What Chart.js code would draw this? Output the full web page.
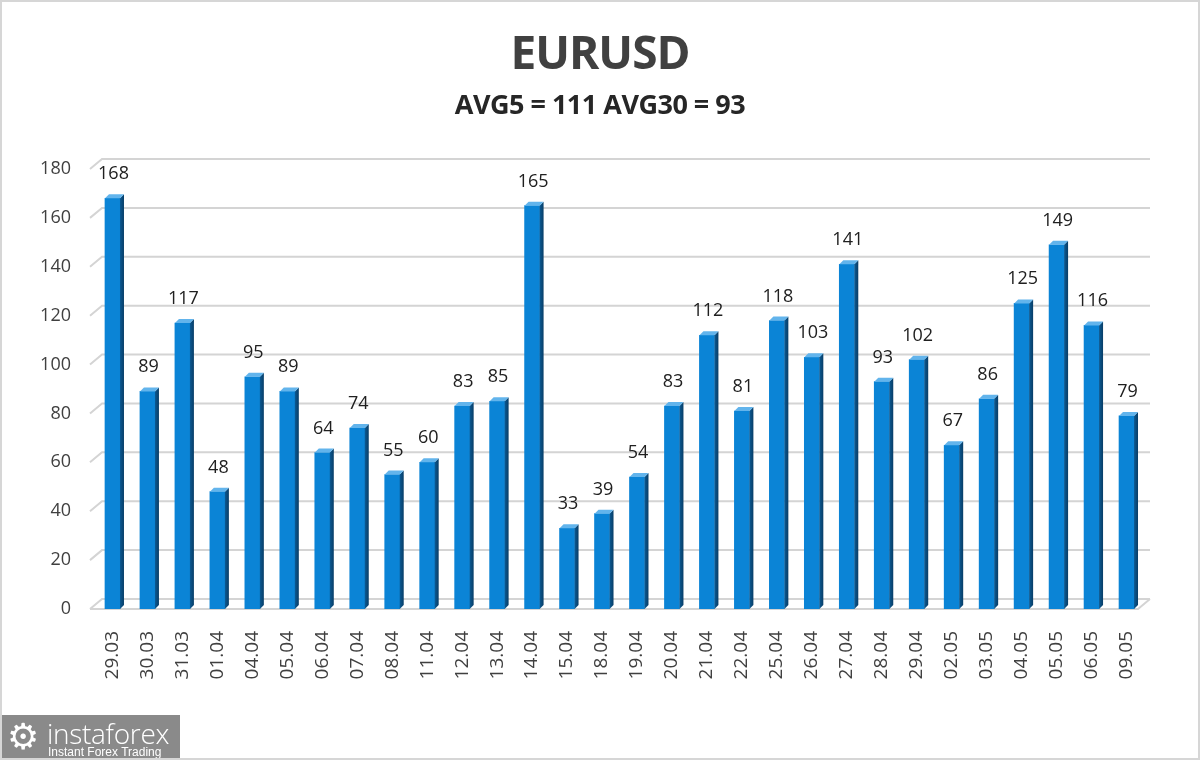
<!DOCTYPE html>
<html>
<head>
<meta charset="utf-8">
<script src="https://cdn.jsdelivr.net/npm/chart.js@4.4.1/dist/chart.umd.min.js"></script>
<style>
  html, body { margin: 0; padding: 0; background: #fff; }
  #wrap { position: relative; width: 1200px; height: 760px; overflow: hidden; background: #fff; }
  #frame { position: absolute; left: 0; top: 0; width: 1196px; height: 756px; border: 2px solid #d6d6d6; pointer-events: none; }
  #title { position: absolute; left: 0; width: 1200px; top: 20px; text-align: center; font: bold 46px "Open Sans", sans-serif; color: #404040; letter-spacing: -1px; }
  #subtitle { position: absolute; left: 0; width: 1200px; top: 85px; text-align: center; font: bold 27px "Open Sans", sans-serif; color: #262626; letter-spacing: -0.5px; }
  #logo { position: absolute; left: 0; top: 715px; width: 180px; height: 45px; background: #8a8a8a; color: #fff; }
  #logo .gear { position: absolute; left: 7px; top: 2px; font: 36px "DejaVu Sans", sans-serif; line-height: 40px; color: #fff; }
  #logo .name { position: absolute; left: 47px; top: 2px; font: 300 28px "Open Sans", sans-serif; line-height: 32px; letter-spacing: -0.3px; }
  #logo .tag { position: absolute; left: 48px; top: 30px; font: 12px "Liberation Sans", Arial, sans-serif; line-height: 14px; }
  canvas { position: absolute; left: 0; top: 0; }
</style>
</head>
<body>
<div id="wrap">
  <canvas id="c" width="1200" height="760"></canvas>
  <div id="title">EURUSD</div>
  <div id="subtitle">AVG5 = 111 AVG30 = 93</div>
  <div id="logo"><span class="gear">⚙</span><span class="name">instaforex</span><span class="tag">Instant Forex Trading</span></div>
  <div id="frame"></div>
</div>
<script>
const categories = ["29.03","30.03","31.03","01.04","04.04","05.04","06.04","07.04","08.04","11.04","12.04","13.04","14.04","15.04","18.04","19.04","20.04","21.04","22.04","25.04","26.04","27.04","28.04","29.04","02.05","03.05","04.05","05.05","06.05","09.05"];
const values = [168,89,117,48,95,89,64,74,55,60,83,85,165,33,39,54,83,112,81,118,103,141,93,102,67,86,125,149,116,79];
const yTicks = [0,20,40,60,80,100,120,140,160,180];

const DX = 12, DY = -10;   // back wall offset
const BD = 4;              // bar depth

const threeD = {
  id: 'threeD',
  beforeDatasetsDraw(chart) {
    const ctx = chart.ctx, y = chart.scales.y, a = chart.chartArea;
    const x0 = a.left - 5, x1 = a.right - 6;
    ctx.save();
    ctx.strokeStyle = '#d4d4d4';
    ctx.lineWidth = 2;
    yTicks.forEach(v => {
      const yf = y.getPixelForValue(v);
      ctx.beginPath();
      ctx.moveTo(x0, yf);
      ctx.lineTo(x0 + DX, yf + DY);
      ctx.lineTo(x1 + DX, yf + DY);
      if (v === 0) {
        ctx.moveTo(x0, yf);
        ctx.lineTo(x1, yf);
        ctx.lineTo(x1 + DX, yf + DY);
      }
      ctx.stroke();
    });
    ctx.restore();
  },
  afterDatasetsDraw(chart) {
    const ctx = chart.ctx;
    const meta = chart.getDatasetMeta(0);
    ctx.save();
    meta.data.forEach((bar, i) => {
      const l = bar.x - bar.width / 2, r = bar.x + bar.width / 2;
      const t = bar.y, b = bar.base;
      const sg = ctx.createLinearGradient(r, 0, r + BD, 0);
      sg.addColorStop(0, '#0b5a94');
      sg.addColorStop(1, '#083d66');
      ctx.fillStyle = sg;
      ctx.beginPath();
      ctx.moveTo(r, t); ctx.lineTo(r + BD, t - BD); ctx.lineTo(r + BD, b - BD); ctx.lineTo(r, b);
      ctx.closePath(); ctx.fill();
      ctx.fillStyle = '#62b4ec';
      ctx.beginPath();
      ctx.moveTo(l, t); ctx.lineTo(l + BD, t - BD); ctx.lineTo(r + BD, t - BD); ctx.lineTo(r, t);
      ctx.closePath(); ctx.fill();
      ctx.fillStyle = '#202020';
      ctx.font = '18px "Open Sans", sans-serif';
      ctx.textAlign = 'center';
      ctx.textBaseline = 'alphabetic';
      ctx.fillText(String(values[i]), bar.x + 1, t - 19);
    });
    ctx.restore();
  }
};

const ctx = document.getElementById('c').getContext('2d');
new Chart(ctx, {
  type: 'bar',
  data: {
    labels: categories,
    datasets: [{
      data: values,
      barThickness: 15,
      backgroundColor: (c) => {
        const el = c.element;
        if (!el || !isFinite(el.x)) return '#0b84d6';
        const l = el.x - 7.5;
        const g = c.chart.ctx.createLinearGradient(l, 0, l + 15, 0);
        g.addColorStop(0, '#3ea2e6');
        g.addColorStop(0.45, '#0a86da');
        g.addColorStop(1, '#0872bd');
        return g;
      },
      borderWidth: 0
    }]
  },
  options: {
    responsive: false,
    animation: false,
    layout: { padding: { top: 169, left: 40, right: 56, bottom: 0 } },
    plugins: { legend: { display: false }, tooltip: { enabled: false } },
    scales: {
      x: {
        grid: { display: false, drawTicks: false },
        border: { display: false },
        ticks: {
          minRotation: 90, maxRotation: 90, autoSkip: false,
          color: '#404040', padding: 22,
          font: { family: '"Open Sans", sans-serif', size: 19 }
        },
        afterFit(s) { s.height = 151; }
      },
      y: {
        min: 0, max: 180,
        grid: { display: false, drawTicks: false },
        border: { display: false },
        ticks: {
          stepSize: 20, color: '#404040', padding: 24,
          font: { family: '"Open Sans", sans-serif', size: 18 }
        },
        afterFit(s) { s.width = 55; }
      }
    }
  },
  plugins: [threeD]
});
</script>
</body>
</html>
